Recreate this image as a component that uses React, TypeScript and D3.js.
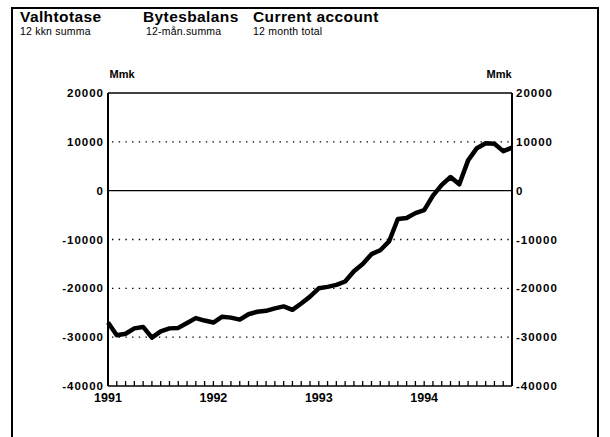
import React from "react";
import * as d3 from "d3";

const W = 610;
const H = 437;

// Monthly 12-month total current account, Mmk, Jan 1991 .. Nov 1994
const months: number[] = d3.range(0, 47);
const values: number[] = [
  -27000, -29600, -29300, -28200, -27900, -30100, -28800, -28200, -28100, -27100, -26100, -26600,
  -27000, -25800, -26000, -26400, -25300, -24800, -24600, -24100, -23700, -24400, -23100, -21700,
  -20000, -19700, -19300, -18600, -16500, -15000, -13000, -12200, -10400, -5800, -5600, -4600,
  -4000, -1000, 1200, 2800, 1300, 6200, 8700, 9700, 9600, 8100, 8800,
];
const yTicks: number[] = [20000, 10000, 0, -10000, -20000, -30000, -40000];
const dottedGrid: number[] = [10000, -10000, -20000, -30000];
const yearLabels: string[] = ["1991", "1992", "1993", "1994"];
const yearStartMonths: number[] = [0, 12, 24, 36];
const titles: { text: string; sub: string }[] = [
  { text: "Valhtotase", sub: "12 kkn summa" },
  { text: "Bytesbalans", sub: "12-mån.summa" },
  { text: "Current account", sub: "12 month total" },
];
const titleX: number[] = [20, 143, 253];

const left = 108;
const right = 512;
const top = 93;
const bottom = 386;

export default function App() {
  const x = d3.scaleLinear().domain([0, 46]).range([left, right]);
  const y = d3.scaleLinear().domain([-40000, 20000]).range([bottom, top]);
  const line = d3
    .line<number>()
    .x((_, i) => x(months[i]))
    .y((d) => y(d))
    .curve(d3.curveLinear);

  const font = "'Liberation Sans', Arial, Helvetica, sans-serif";

  return (
    <svg
      width={W}
      height={H}
      style={{ position: "absolute", left: 0, top: 0, background: "#fff" }}
      fontFamily={font}
    >
      <rect x={0} y={0} width={W} height={H} fill="#fff" />
      {/* outer frame */}
      <rect x={12} y={8} width={586} height={460} fill="none" stroke="#000" strokeWidth={2} />

      {/* titles */}
      {titles.map((t, i) => (
        <g key={t.text}>
          <text x={titleX[i]} y={22} fontSize={15.5} fontWeight="bold" letterSpacing={0.4} fill="#000">
            {t.text}
          </text>
          <text x={titleX[i] + (i === 1 ? 3 : 0)} y={35} fontSize={10.5} letterSpacing={0.2} fill="#000">
            {t.sub}
          </text>
        </g>
      ))}

      {/* unit labels */}
      <text x={122} y={78} fontSize={11} fontWeight="bold" textAnchor="middle">Mmk</text>
      <text x={499} y={78} fontSize={11} fontWeight="bold" textAnchor="middle">Mmk</text>

      {/* dotted grid */}
      {dottedGrid.map((v) => (
        <line
          key={v}
          x1={left + 4}
          x2={right - 2}
          y1={y(v)}
          y2={y(v)}
          stroke="#000"
          strokeWidth={1.3}
          strokeDasharray="1.4,5.3"
        />
      ))}
      {/* zero line */}
      <line x1={left} x2={right} y1={y(0)} y2={y(0)} stroke="#000" strokeWidth={1.3} />
      {/* top line */}
      <line x1={left} x2={right} y1={y(20000)} y2={y(20000)} stroke="#000" strokeWidth={1.5} />
      {/* bottom axis */}
      <line x1={left} x2={right} y1={y(-40000)} y2={y(-40000)} stroke="#000" strokeWidth={1.5} />
      {months.map((m) => (
        <line
          key={m}
          x1={x(m)}
          x2={x(m)}
          y1={y(-40000)}
          y2={y(-40000) - 5}
          stroke="#000"
          strokeWidth={1.3}
        />
      ))}
      {/* side axes */}
      <line x1={left} x2={left} y1={top} y2={bottom} stroke="#000" strokeWidth={2} />
      <line x1={right} x2={right} y1={top} y2={bottom} stroke="#000" strokeWidth={2} />

      {/* y tick labels */}
      {yTicks.map((v) => (
        <g key={v}>
          <text
            x={left - 4}
            y={y(v) + 4}
            fontSize={11.5}
            fontWeight="bold"
            letterSpacing={1}
            textAnchor="end"
          >
            {v}
          </text>
          <text x={right + 4} y={y(v) + 4} fontSize={11.5} fontWeight="bold" letterSpacing={1}>
            {v}
          </text>
        </g>
      ))}

      {/* year labels */}
      {yearLabels.map((lab, i) => (
        <text
          key={lab}
          x={x(yearStartMonths[i])}
          y={402}
          fontSize={12.5}
          fontWeight="bold"
          textAnchor="middle"
        >
          {lab}
        </text>
      ))}

      {/* data line */}
      <path
        d={line(values) || ""}
        fill="none"
        stroke="#000"
        strokeWidth={4.5}
        strokeLinejoin="round"
        strokeLinecap="butt"
      />
    </svg>
  );
}
